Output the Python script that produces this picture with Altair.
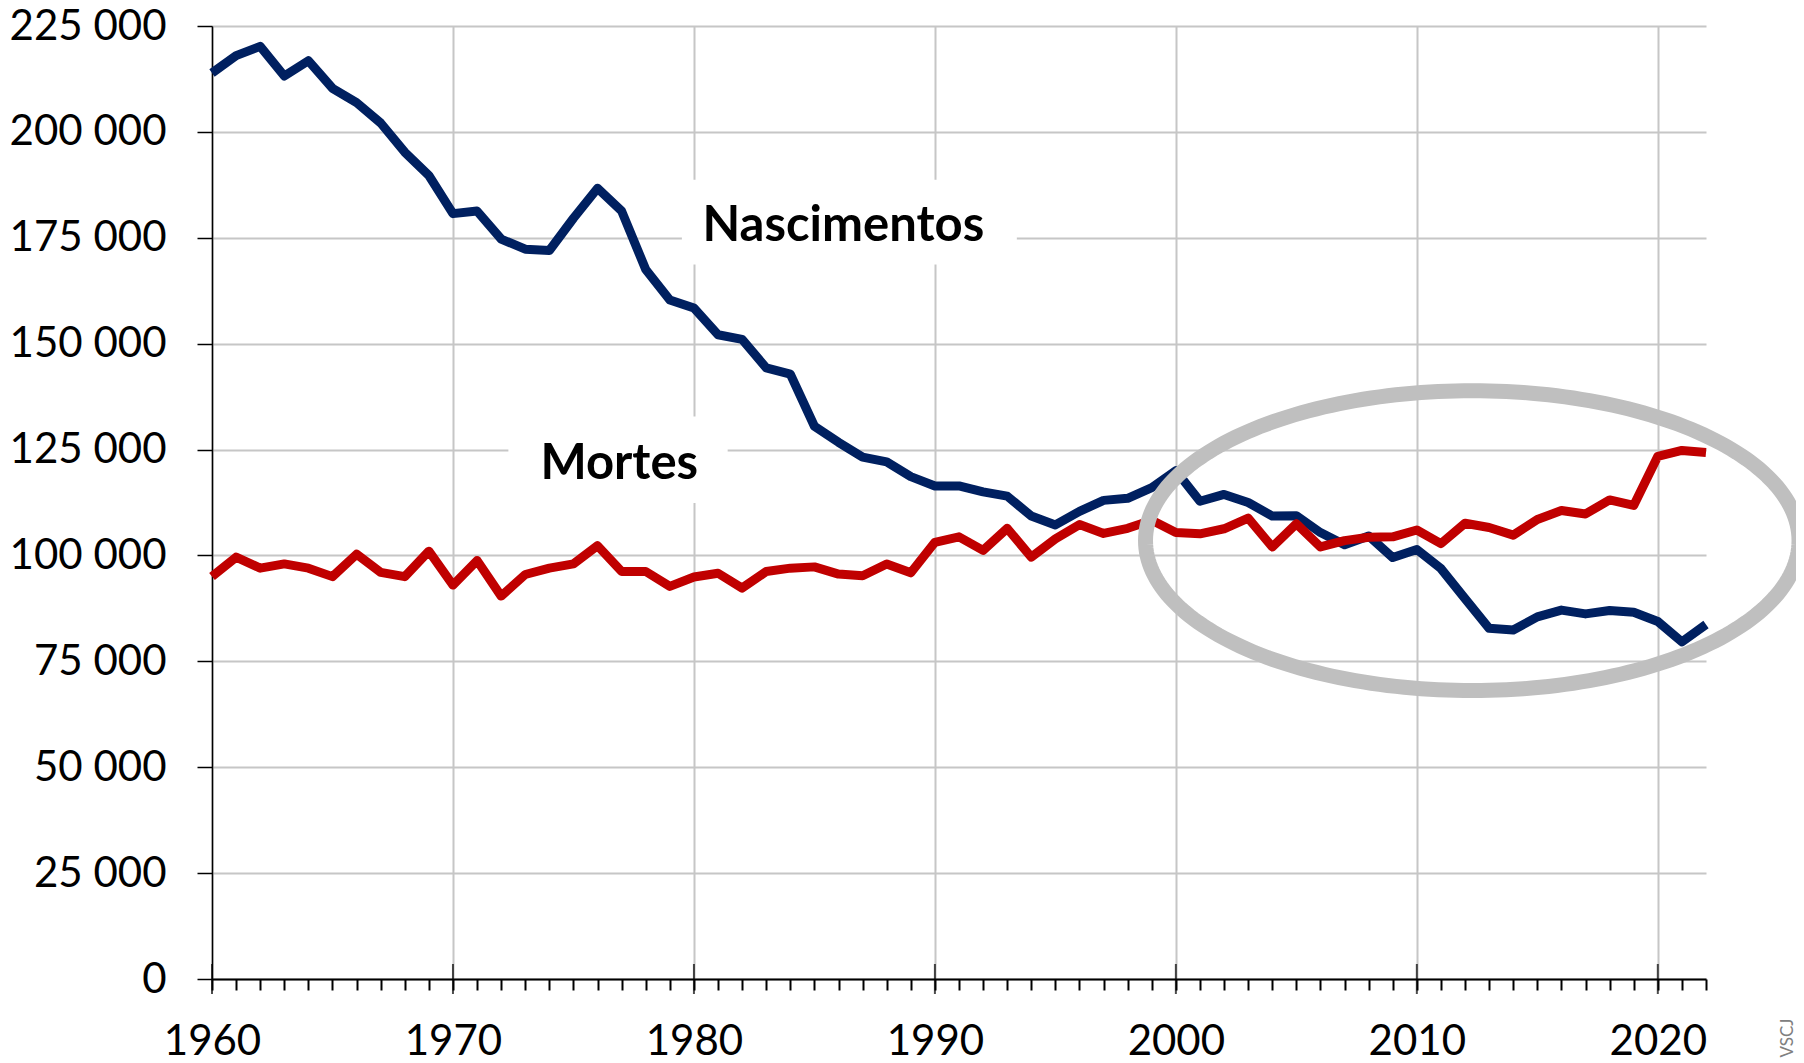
import altair as alt
import pandas as pd
import numpy as np

# ---------------- data ----------------
anos = list(range(1960, 2023))

nascimentos = [
    213900, 218000, 220200, 213200, 216800, 210300, 206900, 202100, 195200, 189700,
    180700, 181300, 174700, 172300, 172000, 179600, 186700, 181300, 167500, 160300,
    158400, 152100, 151000, 144300, 142800, 130500, 126700, 123200, 122100, 118600,
    116400, 116400, 115000, 114000, 109300, 107200, 110400, 113000, 113500, 116000,
    120000, 112800, 114400, 112500, 109300, 109400, 105400, 102500, 104600, 99500,
    101400, 96900, 89800, 82800, 82400, 85500, 87100, 86200, 87000, 86600,
    84400, 79600, 83700,
]

mortes = [
    95000, 99600, 97000, 98000, 97000, 95000, 100300, 96000, 95000, 101000,
    93000, 98800, 90400, 95500, 97000, 98000, 102300, 96200, 96200, 92700,
    94900, 95800, 92300, 96200, 97000, 97300, 95600, 95200, 98000, 95900,
    103100, 104400, 101200, 106400, 99600, 103900, 107300, 105200, 106400, 108300,
    105400, 105100, 106300, 108800, 102000, 107500, 102000, 103500, 104300, 104400,
    106000, 102800, 107600, 106600, 104800, 108500, 110600, 109800, 113100, 111800,
    123400, 124800, 124300,
]

decadas = [1960, 1970, 1980, 1990, 2000, 2010, 2020]
y_ticks = [0, 25000, 50000, 75000, 100000, 125000, 150000, 175000, 200000, 225000]

# series labels (text, x year, baseline value)
rotulos = ["Nascimentos", "Mortes"]
rotulo_x = [1986.2, 1976.9]
rotulo_y = [174300, 118100]
# white boxes behind labels
caixa_x = [1979.5, 1972.3]
caixa_x2 = [1993.4, 1981.4]
caixa_y = [168700, 112400]
caixa_y2 = [188700, 132800]

# highlight ellipse (centre, radii in data units)
elipse_cx, elipse_cy = 2012.3, 103500
elipse_rx, elipse_ry = 13.56, 35400

# ---------------- frames (same field names in every layer) ----------------
df_n = pd.DataFrame({"ano": anos, "valor": nascimentos})
df_m = pd.DataFrame({"ano": anos, "valor": mortes})
df_dec = pd.DataFrame({"ano": decadas, "valor": [0] * len(decadas)})
df_lab = pd.DataFrame({"txt": rotulos, "ano": rotulo_x, "valor": rotulo_y})
df_box = pd.DataFrame({"ano": caixa_x, "ano2": caixa_x2, "valor": caixa_y, "valor2": caixa_y2})
t = np.linspace(0, 2 * np.pi, 241)
df_el = pd.DataFrame({
    "ano": elipse_cx + elipse_rx * np.cos(t),
    "valor": elipse_cy + elipse_ry * np.sin(t),
    "o": np.arange(len(t)),
})

FONT = "Lato"
GRID = "#c6c6c6"

xscale = alt.Scale(domain=[1960, 2022], nice=False, zero=False)
yscale = alt.Scale(domain=[0, 225000], nice=False)

x_axis = alt.Axis(
    values=anos,
    format="d",
    labelExpr="datum.value % 10 === 0 ? datum.label : ''",
    labelOverlap=False,
    labelFlush=False,
    labelPadding=31,
    tickSize=11,
    grid=True,
    gridOpacity={"condition": {"test": "datum.value % 10 === 0", "value": 1}, "value": 0},
    title=None,
)
y_axis = alt.Axis(
    values=y_ticks,
    labelExpr="replace(datum.label, ',', ' ')",
    labelOverlap=False,
    labelFlush=False,
    labelPadding=31,
    tickSize=15,
    grid=True,
    title=None,
)

X = alt.X("ano:Q", scale=xscale, axis=x_axis)
Y = alt.Y("valor:Q", scale=yscale, axis=y_axis)

line_n = alt.Chart(df_n).mark_line(color="#002060", strokeWidth=9, strokeJoin="round").encode(x=X, y=Y)

boxes = alt.Chart(df_box).mark_rect(color="white").encode(
    x=X, x2="ano2:Q", y=Y, y2="valor2:Q",
)

line_m = alt.Chart(df_m).mark_line(color="#C00000", strokeWidth=9, strokeJoin="round").encode(x=X, y=Y)

major_ticks = alt.Chart(df_dec).mark_tick(orient="vertical", size=30, thickness=2, color="black").encode(
    x=X, y=Y,
)

ellipse = alt.Chart(df_el).mark_line(color="#bfbfbf", strokeWidth=15).encode(
    x=X, y=Y, order="o:Q",
)

labels = alt.Chart(df_lab).mark_text(
    font=FONT, fontWeight="bold", fontSize=49, color="black", align="center", baseline="alphabetic"
).encode(x=X, y=Y, text="txt:N")

credit = alt.Chart(pd.DataFrame({"t": ["VSCJ"]})).mark_text(
    font=FONT, fontSize=17, color="#808080", angle=270, align="center", baseline="middle"
).encode(
    x=alt.value(1576),
    y=alt.value(1012),
    text="t:N",
)

chart = (
    alt.layer(line_n, boxes, line_m, major_ticks, ellipse, labels, credit)
    .properties(
        width=1494,
        height=953,
        autosize=alt.AutoSizeParams(type="none"),
        padding={"left": 204, "top": 18, "right": 90, "bottom": 81},
    )
    .configure_view(strokeWidth=0)
    .configure_axis(
        labelFont=FONT,
        labelFontSize=42,
        labelColor="black",
        tickColor="black",
        tickWidth=1.5,
        domainColor="black",
        domainWidth=1.5,
        gridColor=GRID,
        gridWidth=2,
    )
    .configure_axisX(domainWidth=2, tickWidth=2)
)

chart.save("out.html", embed_options={"renderer": "svg", "actions": False})
